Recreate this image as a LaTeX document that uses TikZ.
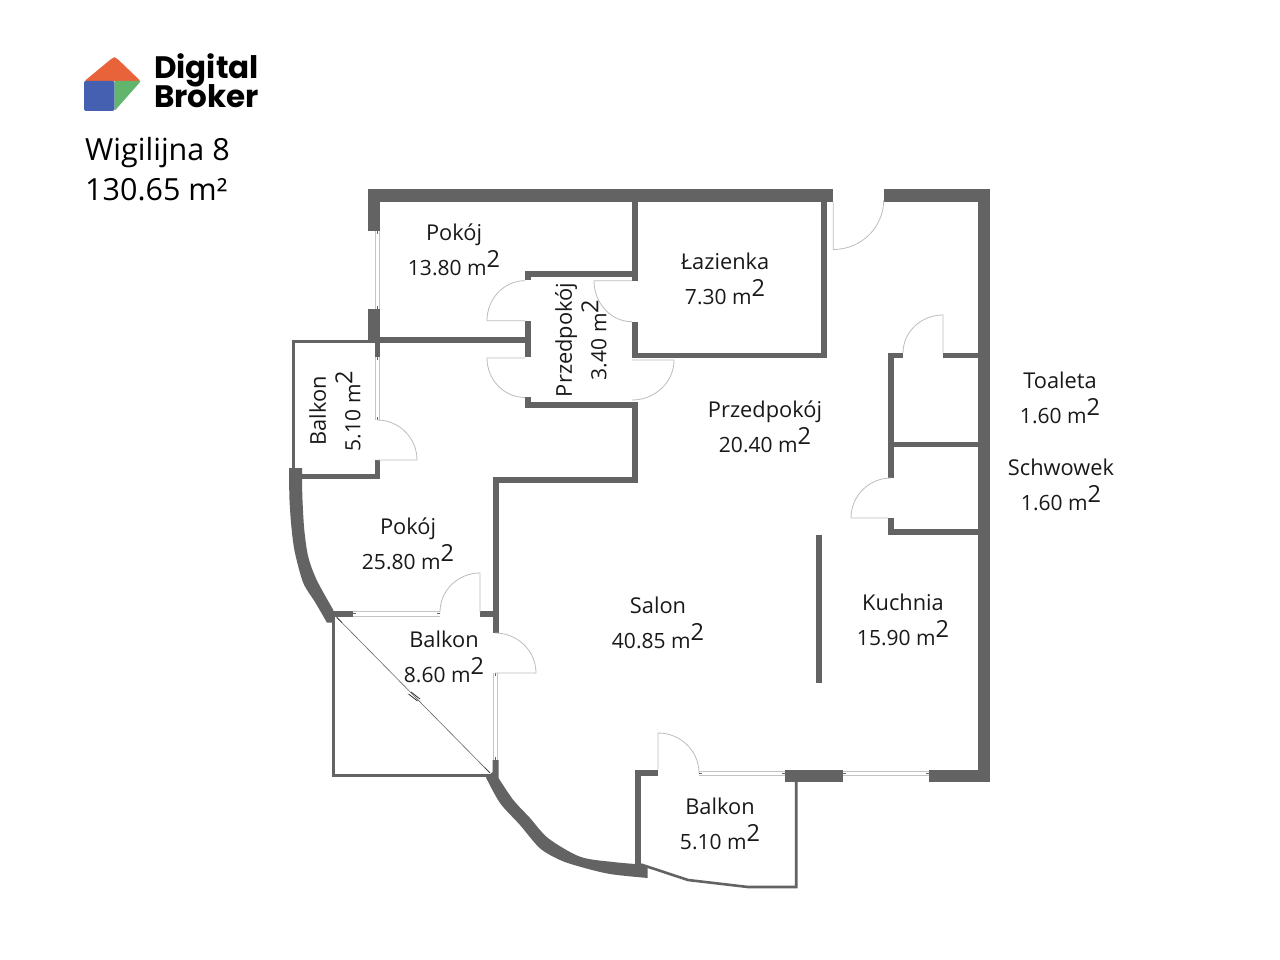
\documentclass[tikz,border=0pt]{standalone}
\usepackage{fontspec}
\setmainfont{Open Sans}
\newfontfamily\logofont{Poppins}
\definecolor{wallc}{HTML}{636363}
\definecolor{doorc}{HTML}{BDBDBD}
\definecolor{winc}{HTML}{C4C4C4}
\definecolor{logor}{HTML}{E8623A}
\definecolor{logob}{HTML}{4560B0}
\definecolor{logog}{HTML}{62B56C}
\newcommand{\msq}{ m\raisebox{0.38em}{\fontsize{23.5}{23.5}\selectfont 2}}
\newcommand{\rname}[1]{{\fontsize{21.8}{34.5}\selectfont #1}}
\newcommand{\wallr}[4]{\fill[wallc] (#1,#2) rectangle (#3,#4);}
\newcommand{\logotype}{\logofont\bfseries\fontsize{31}{29}\selectfont\lineskiplimit=-20pt\relax}
\newcommand{\winh}[4]{% x1 x2 ytop ybottom
  \draw[winc,line width=.9pt] (#1,#3) -- (#2,#3) (#1,#4) -- (#2,#4);
  \draw[wallc,line width=.6pt] (#1,#3+.5*#4-.5*#3) -- +(3,0) (#2,#3+.5*#4-.5*#3) -- +(-3,0);}
\newcommand{\winv}[4]{% y1 y2 xleft xright
  \draw[winc,line width=.9pt] (#3,#1) -- (#3,#2) (#4,#1) -- (#4,#2);
  \draw[wallc,line width=.6pt] (#3+.5*#4-.5*#3,#1) -- +(0,3) (#3+.5*#4-.5*#3,#2) -- +(0,-3);}
\tikzset{
  roomlabel/.style={align=center,inner sep=0pt,text=black!90,font=\fontsize{21}{34.5}\selectfont},
  doorline/.style={draw=doorc,line width=.8pt},
  balcline/.style={draw=wallc,line width=2.6pt},
}
\begin{document}
\begin{tikzpicture}[x=1pt,y=-1pt]
\useasboundingbox (0,0) rectangle (1280,960);
\fill[white] (0,0) rectangle (1280,960);
% logo
\fill[logor,rounded corners=2.5pt] (84,81.5) -- (113,57.5) -- (116,57.5) -- (141,81.5) -- cycle;
\fill[logob,rounded corners=1.5pt] (84,81) -- (114.5,81) -- (114.5,111) -- (84,111) -- cycle;
\fill[logog,rounded corners=1pt] (114.5,81) -- (141,81) -- (114.5,111) -- cycle;
\node[anchor=base west,inner sep=0pt,font=\logotype,align=left] (logotext) at (154,108) {Digital\\Broker};
\node[anchor=base west,inner sep=0pt,font=\fontsize{30.5}{40.5}\selectfont,align=left] (title) at (85,201) {Wigilijna 8\\130.65 m²};
% outer top and right walls
\wallr{368}{189}{833}{202}
\wallr{368}{189}{380}{231}
\wallr{884}{189}{990}{202}
\wallr{978}{189}{990}{782}
\wallr{929}{770}{990}{782}
\wallr{785}{770}{843}{782}
\wallr{368}{309}{380}{343}
\wallr{375}{343}{380}{357}
\wallr{375}{460}{380}{479}
\wallr{290}{474}{380}{479}
% interior walls
\wallr{380}{337}{525}{343}
\wallr{525}{271}{632}{277}
\wallr{525}{271}{531}{280}
\wallr{525}{321}{531}{357}
\wallr{525}{397}{531}{408}
\wallr{525}{402}{638}{408}
\wallr{632}{202}{638}{281}
\wallr{632}{322}{638}{358}
\wallr{632}{353}{827}{358}
\wallr{821}{202}{827}{358}
\wallr{632}{402}{638}{483}
\wallr{493}{477}{638}{483}
\wallr{493}{477}{499}{633}
\wallr{480}{611}{493}{617}
\wallr{333}{611}{353}{617}
\wallr{888}{353}{894}{478}
\wallr{888}{353}{903}{358}
\wallr{943}{353}{978}{358}
\wallr{894}{442}{978}{447}
\wallr{888}{518}{894}{535}
\wallr{888}{529}{978}{535}
\wallr{816}{535}{821.5}{683}
\wallr{635}{770}{658}{776}
\wallr{635}{770}{641}{866}
% curved walls
\fill[wallc] (289,468) -- (302,468) -- plot[smooth,tension=.5] coordinates {(302,479) (302.5,500) (304.3,530) (308.3,557) (316.7,580) (333.3,610)} -- (335,622.7) -- (327,622.7) -- plot[smooth,tension=.5] coordinates {(327,622.7) (315,602) (303.3,583) (295,553) (291.7,530) (289.5,500) (289,468)} -- cycle;
\fill[wallc] (492.7,760) -- (498.7,760) -- plot[smooth,tension=.5] coordinates {(498.5,778) (513.3,800) (530,818) (548.3,838.3) (580,856.7) (613,862) (641.7,864.5)} -- (647.7,867) -- (647.7,878) -- plot[smooth,tension=.5] coordinates {(647.7,878) (610,874) (580,866.7) (560,860) (540,848.3) (520,825) (500,803) (486,777.5)} -- (492.7,772) -- cycle;
% balcony outlines
\draw[balcline] (293.3,468) -- (293.3,341.3) -- (368,341.3);
\draw[balcline] (333.3,617) -- (333.3,775.5) -- (490,775.5);
\draw[balcline,line join=miter] (641,864.5) -- (688,880) -- (748,887) -- (796.2,887) -- (796.2,776);
% diagonal on the balcony
\draw[draw=black!60,line width=.6pt] (336.7,617.3) -- (490,773);
\draw[black!75,line width=.7pt] (336.7,617.3) -- (342,622.7) (490,773) -- (484.7,767.6);
\draw[black!80,line width=.8pt] (408.5,694) -- (417.5,701) (411,692) -- (420,699);
% windows
\winv{231}{309}{375}{379}
\winv{357}{420}{375}{379}
\winv{673}{760}{493}{497}
\winh{353}{440}{611.5}{616}
\winh{699}{785}{771}{775.5}
\winh{843}{929}{771}{775.5}
% doors
\draw[doorline] (377,420) arc[start angle=90,end angle=0,x radius=40,y radius=-40] -- (377,460);
\draw[doorline] (440,612) arc[start angle=180,end angle=90,x radius=40,y radius=-39] -- (480,612);
\draw[doorline] (495,633) arc[start angle=90,end angle=0,x radius=41,y radius=-40] -- (495,673);
\draw[doorline] (658,770) -- (658,733) arc[start angle=90,end angle=0,x radius=41,y radius=-40];
\draw[doorline] (833.3,202) -- (833.3,249.5) arc[start angle=-90,end angle=0,x radius=50.4,y radius=-49.5];
\draw[doorline] (903,353) arc[start angle=180,end angle=90,x radius=40,y radius=-38] -- (943,353);
\draw[doorline] (891,478) arc[start angle=90,end angle=180,x radius=40,y radius=-40] -- (888,518);
\draw[doorline] (525,280.7) arc[start angle=90,end angle=180,x radius=38,y radius=-40] -- (525,320.7);
\draw[doorline] (525,358) -- (487,358) arc[start angle=180,end angle=270,x radius=38,y radius=-39.5];
\draw[doorline] (632,280.7) -- (594,280.7) arc[start angle=180,end angle=270,x radius=38,y radius=-41];
\draw[doorline] (632,360) -- (674,360) arc[start angle=0,end angle=-90,x radius=42,y radius=-40];
% labels
\node[roomlabel] (pokoja) at (454,250) {\rname{Pokój}\\13.80\msq};
\node[roomlabel] (lazienka) at (725,279) {\rname{Łazienka}\\7.30\msq};
\node[roomlabel,rotate=90] (przeda) at (581,340) {\rname{Przedpokój}\\3.40\msq};
\node[roomlabel,rotate=90] (balkona) at (335,411) {\rname{Balkon}\\5.10\msq};
\node[roomlabel] (przedb) at (765,427) {\rname{Przedpokój}\\20.40\msq};
\node[roomlabel] (toaleta) at (1060,398) {\rname{Toaleta}\\1.60\msq};
\node[roomlabel] (schowek) at (1061,485) {\rname{Schwowek}\\1.60\msq};
\node[roomlabel] (pokojb) at (408,544) {\rname{Pokój}\\25.80\msq};
\node[roomlabel] (salon) at (658,623) {\rname{Salon}\\40.85\msq};
\node[roomlabel] (kuchnia) at (903,620) {\rname{Kuchnia}\\15.90\msq};
\node[roomlabel] (balkonb) at (444,657) {\rname{Balkon}\\8.60\msq};
\node[roomlabel] (balkonc) at (720,824) {\rname{Balkon}\\5.10\msq};
\end{tikzpicture}
\end{document}
